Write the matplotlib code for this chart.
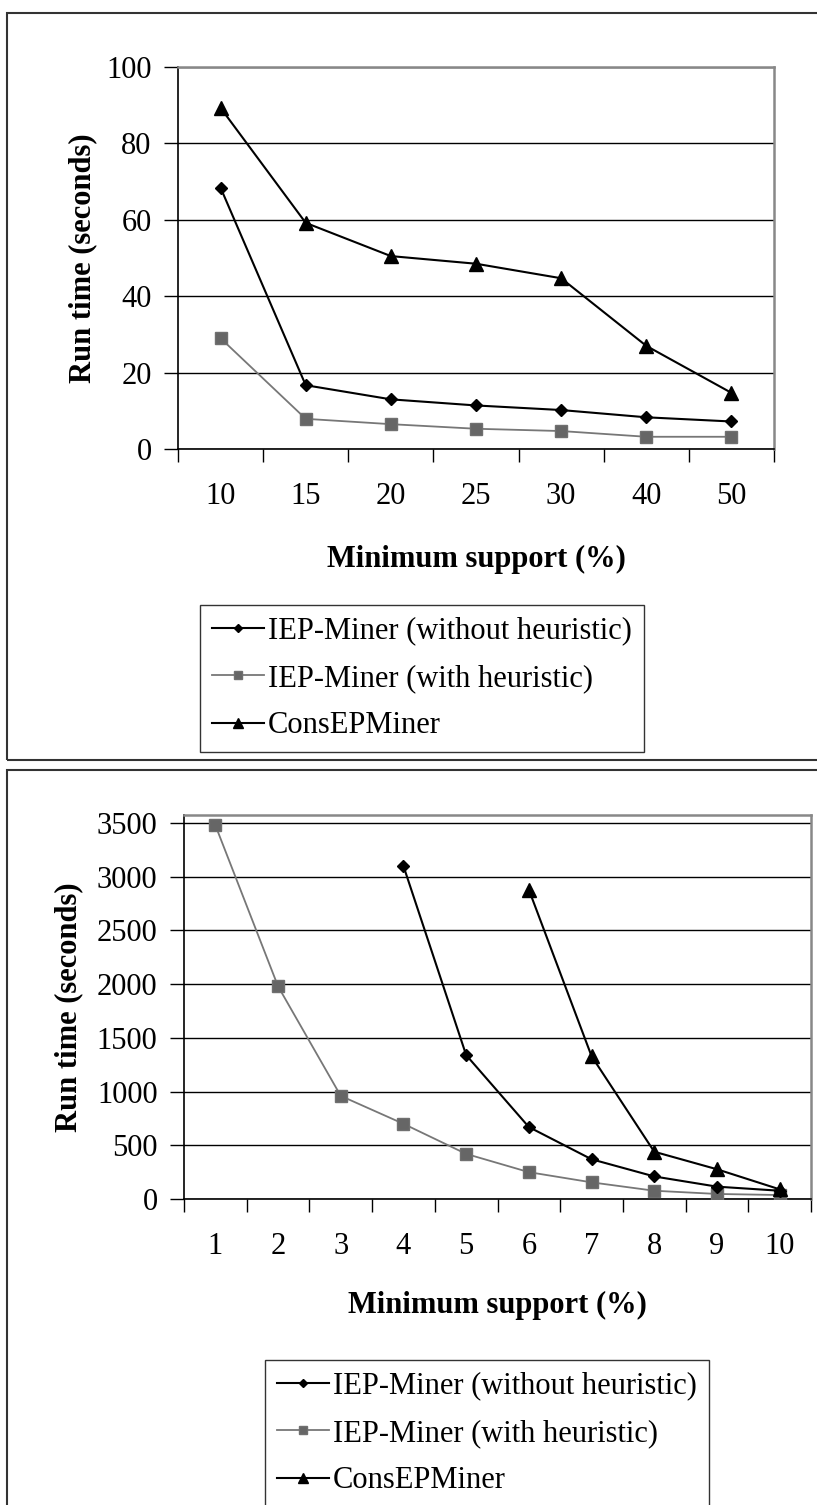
import numpy as np
import matplotlib.pyplot as plt
from matplotlib.patches import Rectangle

plt.rcParams['font.family'] = ['Liberation Serif', 'DejaVu Serif']

# Run time vs. minimum support, dataset A (top) and dataset B (bottom)
top_labels = ['10', '15', '20', '25', '30', '40', '50']
top_without = [68.4, 16.7, 13.0, 11.4, 10.2, 8.3, 7.2]
top_with = [29.0, 7.9, 6.5, 5.3, 4.7, 3.2, 3.2]
top_cons = [89.3, 59.2, 50.5, 48.5, 44.7, 27.0, 14.7]

bot_labels = ['1', '2', '3', '4', '5', '6', '7', '8', '9', '10']
bot_without = [np.nan, np.nan, np.nan, 3100, 1340, 670, 370, 210, 115, 77]
bot_with = [3480, 1980, 960, 700, 420, 250, 155, 77, 47, 37]
bot_cons = [np.nan, np.nan, np.nan, np.nan, np.nan, 2880, 1330, 440, 277, 90]

names = ['IEP-Miner (without heuristic)', 'IEP-Miner (with heuristic)', 'ConsEPMiner']

W, H = 817, 1505
FS = 22
fig = plt.figure(figsize=(W / 100, H / 100), dpi=100)


def px_box(left, top, right, bottom):
    return [left / W, 1 - bottom / H, (right - left) / W, (bottom - top) / H]


def panel(rect, labels, series, ymax, ystep, ylab_x, xlab_y):
    ax = fig.add_axes(rect)
    x = np.arange(len(labels))
    s_without, s_with, s_cons = series
    ax.plot(x, s_without, color='black', lw=1.5, marker='D', ms=6.5,
            label=names[0], zorder=4)
    ax.plot(x, s_with, color='#777777', lw=1.3, marker='s', ms=8.5,
            mfc='#666666', mec='#707070', label=names[1], zorder=3)
    ax.plot(x, s_cons, color='black', lw=1.5, marker='^', ms=9.5,
            label=names[2], zorder=5)

    ax.set_xlim(-0.5, len(labels) - 0.5)
    ax.set_ylim(0, ymax)
    ax.set_yticks(np.arange(0, ymax + 1e-9, ystep))
    ax.yaxis.grid(True, color='black', lw=1)
    ax.set_axisbelow(True)

    ax.set_xticks(x)
    ax.set_xticklabels(labels)
    ax.set_xticks(np.arange(-0.5, len(labels)), minor=True)
    ax.tick_params(axis='x', which='major', length=0, pad=24, labelsize=FS)
    ax.tick_params(axis='x', which='minor', length=9, width=1, direction='out')
    ax.tick_params(axis='y', length=10, width=1, direction='out', pad=9,
                   labelsize=FS)

    for side in ('top', 'right'):
        ax.spines[side].set_color('#888888')
        ax.spines[side].set_linewidth(1.8)
    for side in ('left', 'bottom'):
        ax.spines[side].set_color('black')
        ax.spines[side].set_linewidth(1.2)

    ax.set_ylabel('Run time (seconds)', fontsize=FS, fontweight='bold')
    ax.yaxis.set_label_coords(ylab_x, 0.5)
    ax.set_xlabel('Minimum support (%)', fontsize=FS, fontweight='bold')
    ax.xaxis.set_label_coords(0.5, xlab_y)
    return ax


ax1 = panel(px_box(178, 67, 774, 449), top_labels,
            (top_without, top_with, top_cons), 100, 20, -0.135, -0.25)
ax2 = panel(px_box(184, 815, 811, 1199), bot_labels,
            (bot_without, bot_with, bot_cons), 3575, 500, -0.16, -0.24)

for ax, (lx, ly) in ((ax1, (200, 605)), (ax2, (265, 1360))):
    leg = ax.legend(loc='upper left', bbox_to_anchor=(lx / W, 1 - ly / H),
                    bbox_transform=fig.transFigure, fontsize=FS,
                    frameon=True, fancybox=False, borderpad=0.38,
                    borderaxespad=0, handlelength=1.7, handletextpad=0.15,
                    labelspacing=0.6, markerscale=0.7)
    leg.get_frame().set_edgecolor('black')
    leg.get_frame().set_linewidth(1.0)

# outer frames around each chart
fig.patches.append(Rectangle((7 / W, 1 - 760 / H), 1.0, (760 - 13) / H,
                             transform=fig.transFigure, fill=False,
                             ec='#333333', lw=1.5))
fig.patches.append(Rectangle((7 / W, -0.1), 1.0, 0.1 + (H - 770) / H,
                             transform=fig.transFigure, fill=False,
                             ec='#333333', lw=1.5))

fig.savefig('out.png', dpi=100)
